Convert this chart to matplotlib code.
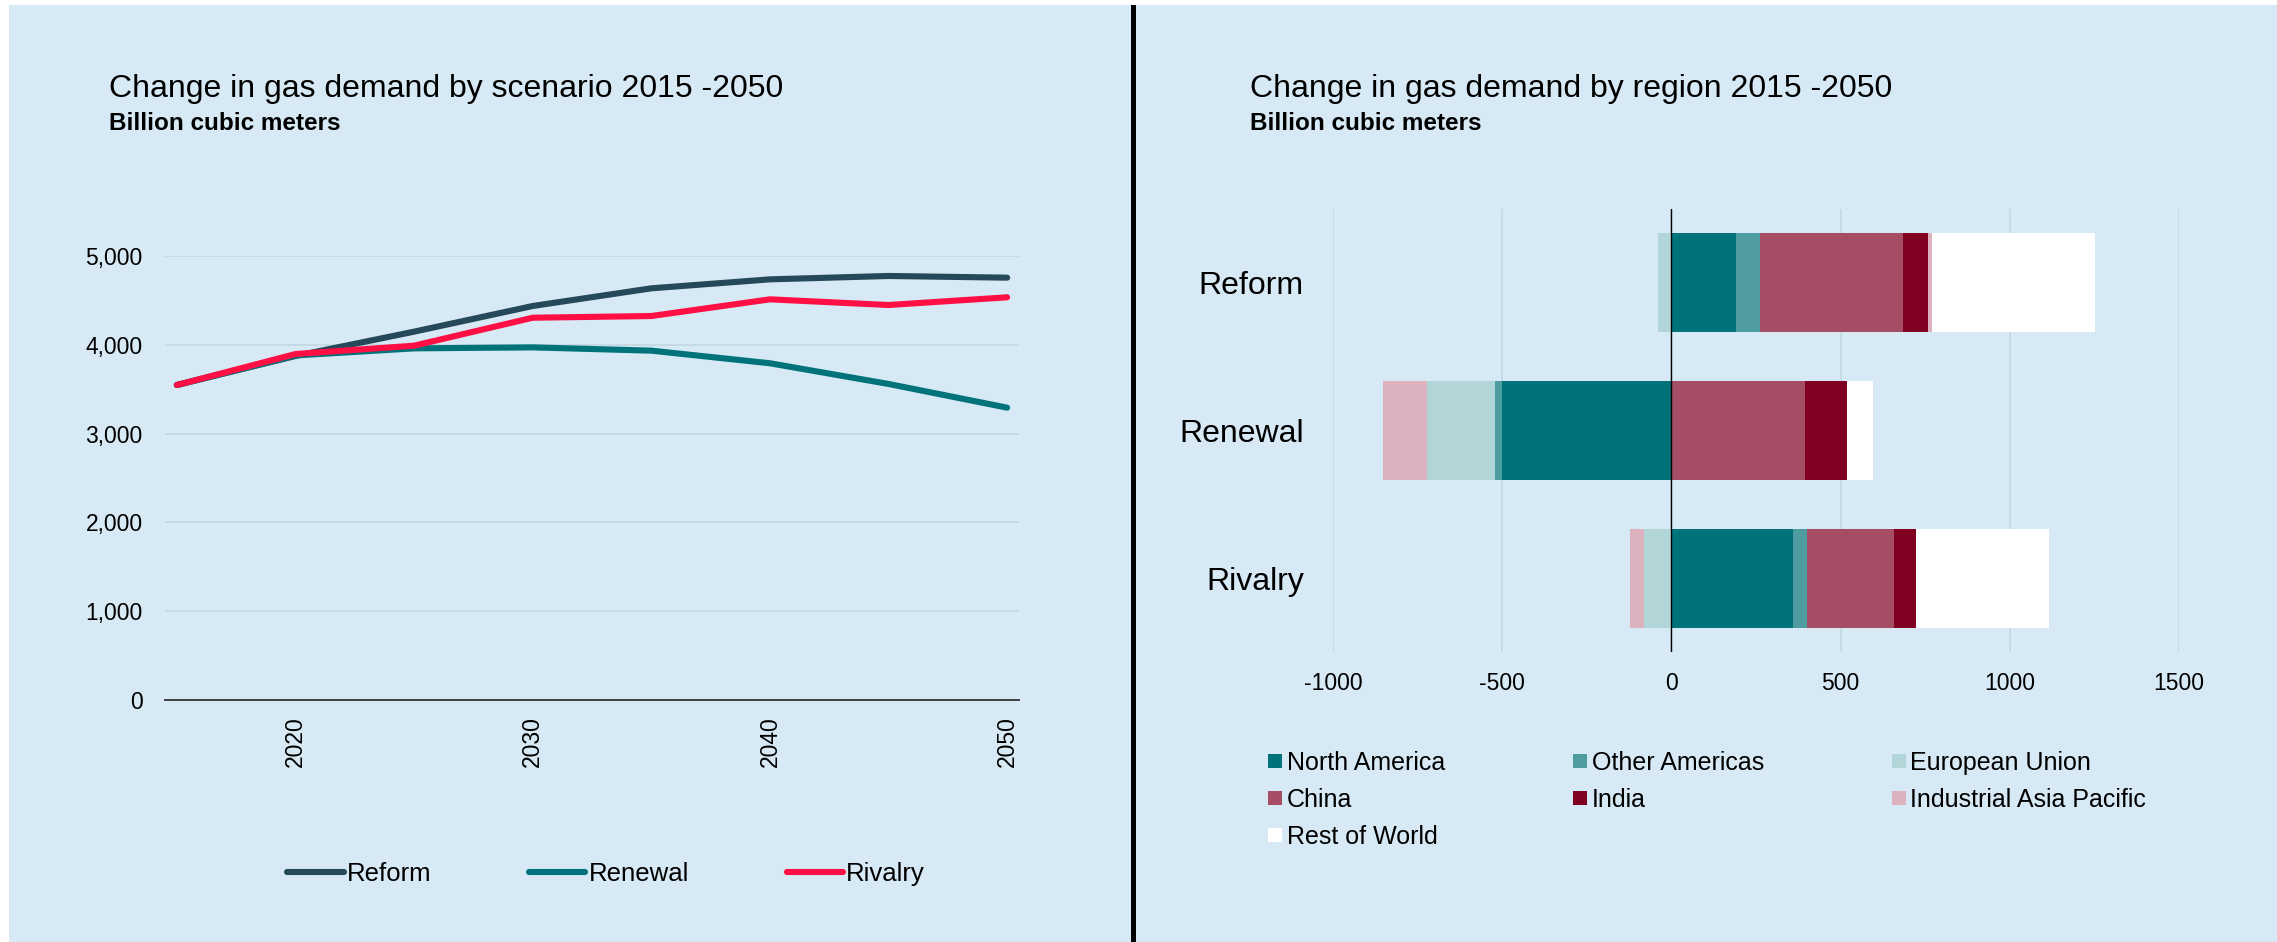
import matplotlib
matplotlib.use("Agg")
import matplotlib.pyplot as plt
import numpy as np
from matplotlib.lines import Line2D
from matplotlib.patches import Rectangle

BG, GRID, INK = "#d6e9f4", "#c2d6e2", "#000000"

plt.rcParams.update({"font.family": ["Liberation Sans", "DejaVu Sans"], "text.color": INK,
                     "axes.unicode_minus": False})

# left panel: gas demand by scenario (bcm)
years = [2015, 2020, 2025, 2030, 2035, 2040, 2045, 2050]
reform = [3547, 3874, 4148, 4437, 4636, 4737, 4775, 4756]
renewal = [3547, 3880, 3960, 3971, 3934, 3792, 3559, 3292]
rivalry = [3547, 3896, 3990, 4305, 4324, 4512, 4448, 4535]
line_colors = {"Reform": "#25495a", "Renewal": "#00737a", "Rivalry": "#ff0f44"}

# right panel: change by region 2015-2050 (bcm)
scenarios = ["Reform", "Renewal", "Rivalry"]
regions = ["North America", "Other Americas", "European Union", "China", "India",
           "Industrial Asia Pacific", "Rest of World"]
north_america = [192, -500, 358]
other_americas = [71, -20, 43]
european_union = [-41, -203, -81]
china = [421, 395, 257]
india = [75, 125, 65]
ind_asia_pacific = [12, -129, -42]
rest_of_world = [480, 77, 392]
region_colors = ["#00727a", "#4e9ca0", "#b2d5d7", "#a54d64", "#800022", "#dbb2be", "#ffffff"]

fig = plt.figure(figsize=(22.77, 9.42), dpi=100)
fig.patch.set_facecolor(BG)
# thin white edge at top/left and the black divider between the panels
fig.add_artist(Rectangle((0, 1 - 5 / 942), 1, 5 / 942, transform=fig.transFigure, color="white", lw=0))
fig.add_artist(Rectangle((0, 0), 9 / 2277, 1, transform=fig.transFigure, color="white", lw=0))
fig.add_artist(Line2D([1133 / 2277] * 2, [0, 1 - 7 / 942], transform=fig.transFigure, color="black", lw=3.6))

fig.text(109 / 2277, 1 - 97 / 942, "Change in gas demand by scenario 2015 -2050", fontsize=23, va="baseline")
fig.text(109 / 2277, 1 - 130 / 942, "Billion cubic meters", fontsize=17.5, fontweight="bold", va="baseline")
fig.text(1250 / 2277, 1 - 97 / 942, "Change in gas demand by region 2015 -2050", fontsize=23, va="baseline")
fig.text(1250 / 2277, 1 - 130 / 942, "Billion cubic meters", fontsize=17.5, fontweight="bold", va="baseline")

# ---------------------------------------------------------------------------
# left: lines
# ---------------------------------------------------------------------------
ax = fig.add_axes([165 / 2277, 1 - 700 / 942, 854 / 2277, 444 / 942])
ax.set_facecolor(BG)
for name, vals in [("Reform", reform), ("Renewal", renewal), ("Rivalry", rivalry)]:
    ax.plot(years, vals, color=line_colors[name], lw=4.4, solid_capstyle="round",
            solid_joinstyle="round", label=name)
ax.set_xlim(2014.5, 2050.5)
ax.set_ylim(0, 5000)
ax.set_yticks(range(0, 5001, 1000))
ax.set_yticklabels([f"{v:,}" for v in range(0, 5001, 1000)])
ax.set_xticks([2020, 2030, 2040, 2050])
ax.tick_params(axis="x", rotation=90, labelsize=16.5, pad=11.5, length=0)
ax.tick_params(axis="y", labelsize=16.5, pad=16, length=0)
ax.grid(axis="y", color=GRID, lw=1.1)
ax.set_axisbelow(True)
for s in ["top", "right", "left"]:
    ax.spines[s].set_visible(False)
ax.spines["bottom"].set_color("#404040")
ax.spines["bottom"].set_linewidth(1.4)
ax.legend(loc="center left", bbox_to_anchor=(287 / 2277, 1 - 874 / 942), bbox_transform=fig.transFigure,
          ncol=3, frameon=False, fontsize=18.5, handlelength=2.2, handletextpad=0.12,
          columnspacing=3.8, borderpad=0, borderaxespad=0)

# ---------------------------------------------------------------------------
# right: stacked horizontal bars, positives and negatives stacked apart
# ---------------------------------------------------------------------------
bx = fig.add_axes([1333 / 2277, 1 - 652 / 942, 846 / 2277, 443 / 942])
bx.set_facecolor(BG)
series = [north_america, other_americas, european_union, china, india, ind_asia_pacific, rest_of_world]
ypos = np.arange(len(scenarios))
pos_base = np.zeros(len(scenarios))
neg_base = np.zeros(len(scenarios))
handles = []
for name, vals, col in zip(regions, series, region_colors):
    vals = np.array(vals, dtype=float)
    left = np.where(vals >= 0, pos_base, neg_base)
    b = bx.barh(ypos, vals, left=left, height=0.67, color=col, lw=0, label=name)
    handles.append(b)
    pos_base += np.clip(vals, 0, None)
    neg_base += np.clip(vals, None, 0)
bx.axvline(0, color="black", lw=1.0, zorder=3)
bx.set_xlim(-1000, 1500)
bx.set_ylim(2.5, -0.5)
bx.set_xticks(range(-1000, 1501, 500))
bx.set_yticks(ypos)
bx.set_yticklabels(scenarios)
bx.tick_params(axis="x", labelsize=16.5, pad=14.4, length=0)
bx.tick_params(axis="y", labelsize=23, pad=21, length=0)
bx.grid(axis="x", color=GRID, lw=1.1)
bx.set_axisbelow(True)
for s in bx.spines.values():
    s.set_visible(False)

# Excel fills the legend row by row; matplotlib fills by column
order = [0, 3, 6, 1, 4, 2, 5]
bx.legend([handles[i] for i in order], [regions[i] for i in order], loc="upper left",
          bbox_to_anchor=(1268 / 2277, 1 - 751 / 942), bbox_transform=fig.transFigure,
          ncol=3, frameon=False, fontsize=18, handlelength=0.56, handleheight=0.52,
          handletextpad=0.2, columnspacing=5.1, labelspacing=0.52, borderpad=0, borderaxespad=0)

fig.savefig("out.png", dpi=100, facecolor=BG)
